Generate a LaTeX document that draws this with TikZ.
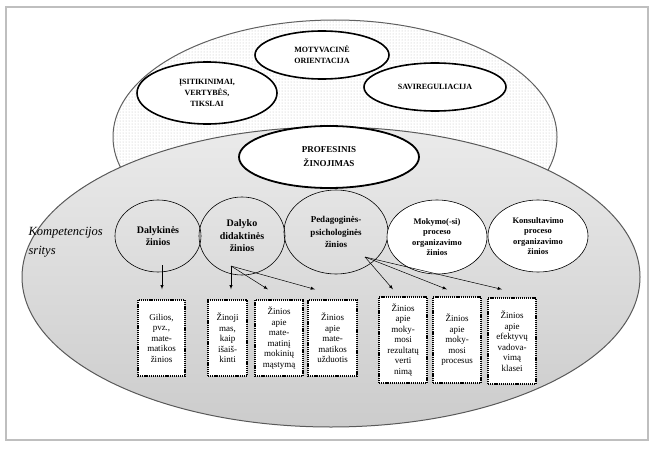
\documentclass[tikz,border=0pt]{standalone}
\usepackage{fontspec}
\setmainfont{Liberation Serif}
\usetikzlibrary{shapes.geometric,patterns,arrows}
\tikzset{
  topell/.style={ellipse,draw=black,line width=1.6pt,fill=white,inner sep=0pt,
    align=center,font=\fontsize{8}{11}\selectfont\bfseries},
  area/.style={ellipse,draw=black,line width=0.6pt,inner sep=0pt,
    align=center,font=\fontsize{10}{12.5}\selectfont\bfseries},
  areaw/.style={area,fill=white,font=\fontsize{8.5}{10.5}\selectfont\bfseries},
  knowbox/.style={rectangle,draw=black,line width=1.3pt,dash pattern=on 1.2pt off 0.9pt,
    fill=white,inner sep=0pt,align=center,font=\fontsize{9}{10.5}\selectfont},
  arr/.style={-latex,line width=0.5pt},
}

\begin{document}
\begin{tikzpicture}[x=1pt,y=1pt]
\useasboundingbox (0,0) rectangle (656,451);
\draw[gray!50,line width=1.2pt] (6,444) rectangle (648,11);
\node[ellipse,draw=gray!75!black,line width=1pt,pattern=dots,pattern color=gray!55,
  minimum width=444pt,minimum height=234pt] (pers) at (335,314) {};
\node[ellipse,draw=gray!70!black,line width=1pt,top color=gray!16,bottom color=gray!40,
  minimum width=618pt,minimum height=300pt] (komp) at (331,174) {};
\node[topell,minimum width=134pt,minimum height=48pt] (motyv) at (322,396)
  {MOTYVACINĖ\\ORIENTACIJA};
\node[topell,minimum width=140pt,minimum height=62pt] (isit) at (207,358)
  {ĮSITIKINIMAI,\\VERTYBĖS,\\TIKSLAI};
\node[topell,minimum width=142pt,minimum height=48pt] (savir) at (435,364)
  {SAVIREGULIACIJA};
\node[topell,line width=1.8pt,minimum width=180pt,minimum height=62pt,
  font=\fontsize{9}{14}\selectfont\bfseries] (prof) at (329,294)
  {PROFESINIS\\ŽINOJIMAS};
\node[anchor=west,align=left,font=\fontsize{12.5}{19}\selectfont\itshape] (sritys) at (25,209)
  {Kompetencijos\\sritys};
\node[area,minimum width=86pt,minimum height=72pt] (dalyk) at (158,215) {Dalykinės\\žinios};
\node[area,minimum width=86pt,minimum height=78pt] (didakt) at (242,215)
  {Dalyko\\didaktinės\\žinios};
\node[area,minimum width=104pt,minimum height=84pt,
  font=\fontsize{9}{12.5}\selectfont\bfseries] (pedag) at (336,219)
  {Pedagoginės-\\psichologinės\\žinios};
\node[areaw,minimum width=100pt,minimum height=74pt] (mokym) at (437,214)
  {Mokymo(-si)\\proceso\\organizavimo\\žinios};
\node[areaw,minimum width=100pt,minimum height=72pt] (konsult) at (538,215)
  {Konsultavimo\\proceso\\organizavimo\\žinios};
\node[knowbox,minimum width=47pt,minimum height=76pt] (b1) at (161.5,113)
  {Gilios,\\pvz.,\\mate-\\matikos\\žinios};
\node[knowbox,minimum width=39pt,minimum height=76pt] (b2) at (227.5,113)
  {Žinoji\\mas,\\kaip\\išaiš-\\kinti};
\node[knowbox,minimum width=48pt,minimum height=76pt] (b3) at (279,113)
  {Žinios\\apie\\mate-\\matinį\\mokinių\\mąstymą};
\node[knowbox,minimum width=49pt,minimum height=76pt] (b4) at (332.5,113)
  {Žinios\\apie\\mate-\\matikos\\užduotis};
\node[knowbox,minimum width=48pt,minimum height=86pt] (b5) at (403,111)
  {Žinios\\apie\\moky-\\mosi\\rezultatų\\verti\\nimą};
\node[knowbox,minimum width=48pt,minimum height=86pt] (b6) at (457,111)
  {Žinios\\apie\\moky-\\mosi\\procesus};
\node[knowbox,minimum width=48pt,minimum height=86pt] (b7) at (512,110)
  {Žinios\\apie\\efektyvų\\vadova-\\vimą\\klasei};
\coordinate (s1) at (162,186);
\coordinate (s2) at (231,185);
\coordinate (s3) at (365,194);
\coordinate (t1) at ([xshift=0.5pt,yshift=10pt]b1.north);
\coordinate (t2) at ([xshift=3.5pt,yshift=10pt]b2.north);
\coordinate (t3) at ([xshift=-11pt,yshift=10pt]b3.north);
\coordinate (t4) at ([xshift=-17.5pt,yshift=10pt]b4.north);
\coordinate (t5) at ([xshift=-10pt,yshift=7pt]b5.north);
\coordinate (t6) at ([xshift=-10pt,yshift=7pt]b6.north);
\coordinate (t7) at ([xshift=-10pt,yshift=8pt]b7.north);
\draw[arr] (s1) -- (t1);
\draw[arr] (s2) -- (t2);
\draw[arr] (s2) -- (t3);
\draw[arr] (s2) -- (t4);
\draw[arr] (s3) -- (t5);
\draw[arr] (s3) -- (t6);
\draw[arr] (s3) -- (t7);
\end{tikzpicture}
\end{document}
